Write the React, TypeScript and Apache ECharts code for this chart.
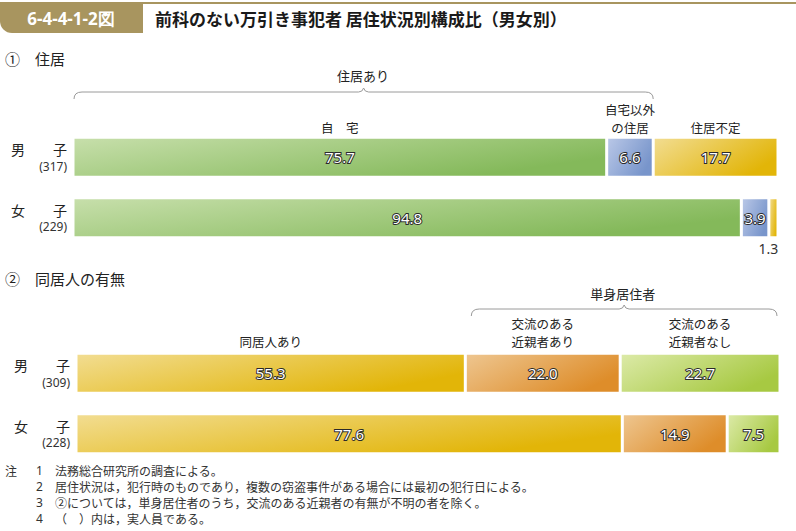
import React, { useEffect, useRef } from "react";
import * as echarts from "echarts";

// ---- data ----
const rowNames = ["男　　子", "女　　子"];
const housingCounts = [317, 229];
const housingSeries = ["自　宅", "自宅以外\nの住居", "住居不定"];
const housingOwn = [75.7, 94.8];
const housingOther = [6.6, 3.9];
const housingNone = [17.7, 1.3];
const housingBrace = "住居あり";

const cohabCounts = [309, 228];
const cohabSeries = ["同居人あり", "交流のある\n近親者あり", "交流のある\n近親者なし"];
const cohabWith = [55.3, 77.6];
const cohabContact = [22.0, 14.9];
const cohabNoContact = [22.7, 7.5];
const cohabBrace = "単身居住者";

const figNo = "6-4-4-1-2図";
const title = "前科のない万引き事犯者 居住状況別構成比（男女別）";
const section1 = "住居";
const section2 = "同居人の有無";
const notes = [
  ["1", "法務総合研究所の調査による。"],
  ["2", "居住状況は，犯行時のものであり，複数の窃盗事件がある場合には最初の犯行日による。"],
  ["3", "②については，単身居住者のうち，交流のある近親者の有無が不明の者を除く。"],
  ["4", "（　）内は，実人員である。"],
];

const FONT = '"Noto Sans CJK JP", "Noto Sans", sans-serif';
const NUMFONT = '"Noto Sans", "DejaVu Sans", sans-serif';
const GOLD = "#a8955f";

const G1 = { left: 73, top: 127, width: 705, height: 121 };
const G2 = { left: 76, top: 343, width: 704, height: 121 };

const grad = (a: string, b: string) =>
  new echarts.graphic.LinearGradient(0, 0, 1, 0.5, [
    { offset: 0, color: a },
    { offset: 1, color: b },
  ]);

const C_GREEN = ["#c7dfab", "#84b95a"];
const C_BLUE = ["#bac8e7", "#7895cb"];
const C_YELLOW = ["#f2dd92", "#e2b508"];
const C_ORANGE = ["#eec690", "#de8d2a"];
const C_LGREEN = ["#dceaa8", "#a7c942"];

function bar(name: string, data: any[], c: string[], idx: number) {
  return {
    type: "bar",
    name,
    stack: "s" + idx,
    xAxisIndex: idx,
    yAxisIndex: idx,
    barWidth: 40,
    data,
    itemStyle: { color: grad(c[0], c[1]), borderColor: "#ffffff", borderWidth: 1.5 },
    label: {
      show: true,
      position: "inside",
      fontFamily: NUMFONT,
      fontSize: 15,
      color: "#ffffff",
      textBorderColor: "#2a2a2a",
      textBorderWidth: 2,
      formatter: (p: any) => Number(p.value).toFixed(1),
    },
  };
}

function brace(L: number, R: number, yt: number) {
  const st = { stroke: "#9a9a9a", lineWidth: 1, fill: "none" };
  const mid = (L + R) / 2;
  return [
    { type: "bezierCurve", shape: { x1: L, y1: yt + 7, cpx1: L, cpy1: yt, x2: L + 8, y2: yt }, style: st },
    { type: "line", shape: { x1: L + 8, y1: yt, x2: mid - 5, y2: yt }, style: st },
    { type: "bezierCurve", shape: { x1: mid - 5, y1: yt, cpx1: mid - 1, cpy1: yt, x2: mid, y2: yt - 4 }, style: st },
    { type: "bezierCurve", shape: { x1: mid, y1: yt - 4, cpx1: mid + 1, cpy1: yt, x2: mid + 5, y2: yt }, style: st },
    { type: "line", shape: { x1: mid + 5, y1: yt, x2: R - 8, y2: yt }, style: st },
    { type: "bezierCurve", shape: { x1: R - 8, y1: yt, cpx1: R, cpy1: yt, x2: R, y2: yt + 7 }, style: st },
  ];
}

function txt(text: string, x: number, y: number, o: any = {}) {
  return {
    type: "text",
    x,
    y,
    style: {
      text,
      fontFamily: FONT,
      fontSize: 13,
      fill: "#222",
      textAlign: "center",
      textVerticalAlign: "middle",
      ...o,
    },
  };
}

// multi-line header: one text element per line, bottom line at yBottom
function header(text: string, x: number, yBottom: number) {
  const lines = text.split("\n");
  return lines.map((l, i) =>
    txt(l, x, yBottom - (lines.length - 1 - i) * 18, { fontSize: 12.5 })
  );
}

export default function App() {
  const ref = useRef<HTMLDivElement>(null);
  useEffect(() => {
    if (!ref.current) return;
    const chart = echarts.init(ref.current, null, { renderer: "svg" });
    const xAt = (g: any, p: number) => g.left + (g.width * p) / 100;

    const yAxis = (counts: number[], idx: number) => ({
      type: "category",
      gridIndex: idx,
      inverse: true,
      data: rowNames,
      axisLine: { show: false },
      axisTick: { show: false },
      axisLabel: {
        margin: 6,
        align: "right",
        formatter: (v: string, i: number) => `{a|${v}}\n{b|(${counts[i]})}`,
        rich: {
          a: { fontFamily: FONT, fontSize: 14, color: "#222", lineHeight: 18, align: "right" },
          b: { fontFamily: NUMFONT, fontSize: 12, color: "#333", lineHeight: 16, align: "right" },
        },
      },
    });
    const xAxis = (idx: number) => ({
      type: "value",
      gridIndex: idx,
      min: 0,
      max: 100,
      show: false,
    });

    const h1 = [0, housingOwn[0], housingOwn[0] + housingOther[0], 100];
    const h2 = [0, cohabWith[0], cohabWith[0] + cohabContact[0], 100];
    const cx1 = (i: number) => (xAt(G1, h1[i]) + xAt(G1, h1[i + 1])) / 2;
    const cx2 = (i: number) => (xAt(G2, h2[i]) + xAt(G2, h2[i + 1])) / 2;

    const graphics: any[] = [
      { type: "rect", shape: { x: 0, y: 2, width: 796, height: 2 }, style: { fill: GOLD } },
      { type: "rect", shape: { x: 0, y: 2, width: 143, height: 31, r: [0, 0, 0, 12] }, style: { fill: GOLD } },
      txt(figNo, 71, 18, { fill: "#fff", fontSize: 17, fontWeight: "bold", fontFamily: NUMFONT }),
      txt(title, 155, 18, { textAlign: "left", fontSize: 17, fontWeight: "bold", fill: "#1a1a1a" }),
      txt("①", 5, 58, { textAlign: "left", fontSize: 15 }),
      txt(section1, 35, 58, { textAlign: "left", fontSize: 15 }),
      txt("②", 5, 278, { textAlign: "left", fontSize: 15 }),
      txt(section2, 35, 278, { textAlign: "left", fontSize: 15 }),
      txt(housingBrace, (xAt(G1, h1[0]) + xAt(G1, h1[2])) / 2, 75),
      ...brace(xAt(G1, h1[0]) + 1, xAt(G1, h1[2]), 92),
      ...header(housingSeries[0], cx1(0), 127),
      ...header(housingSeries[1], cx1(1), 127),
      ...header(housingSeries[2], cx1(2), 127),
      txt(cohabBrace, (xAt(G2, h2[1]) + xAt(G2, h2[3])) / 2, 293),
      ...brace(xAt(G2, h2[1]) + 6, xAt(G2, h2[3]) - 3, 309),
      ...header(cohabSeries[0], cx2(0), 341),
      ...header(cohabSeries[1], cx2(1), 341),
      ...header(cohabSeries[2], cx2(2), 341),
      txt("注", 5, 470, { textAlign: "left", fontSize: 12, fill: "#333" }),
    ];
    notes.forEach((n, i) => {
      const y = 470 + i * 16;
      graphics.push(txt(n[0], 36, y, { textAlign: "left", fontSize: 12, fill: "#333", fontFamily: NUMFONT }));
      graphics.push(txt(n[1], 55, y, { textAlign: "left", fontSize: 12, fill: "#333" }));
    });

    const femaleNone: any[] = housingNone.map((v, i) =>
      i === 1
        ? {
            value: v,
            label: {
              position: "bottom",
              distance: 4,
              offset: [-5, 0],
              color: "#333",
              textBorderWidth: 0,
              fontSize: 14,
            },
          }
        : v
    );

    chart.setOption({
      animation: false,
      grid: [
        { ...G1, containLabel: false },
        { ...G2, containLabel: false },
      ],
      xAxis: [xAxis(0), xAxis(1)],
      yAxis: [yAxis(housingCounts, 0), yAxis(cohabCounts, 1)],
      series: [
        bar(housingSeries[0], housingOwn, C_GREEN, 0),
        bar(housingSeries[1], housingOther, C_BLUE, 0),
        bar(housingSeries[2], femaleNone, C_YELLOW, 0),
        bar(cohabSeries[0], cohabWith, C_YELLOW, 1),
        bar(cohabSeries[1], cohabContact, C_ORANGE, 1),
        bar(cohabSeries[2], cohabNoContact, C_LGREEN, 1),
      ],
      graphic: graphics,
    });
    return () => chart.dispose();
  }, []);
  return (
    <div
      ref={ref}
      style={{ position: "absolute", left: 0, top: 0, width: 796, height: 531, background: "#fff" }}
    />
  );
}
